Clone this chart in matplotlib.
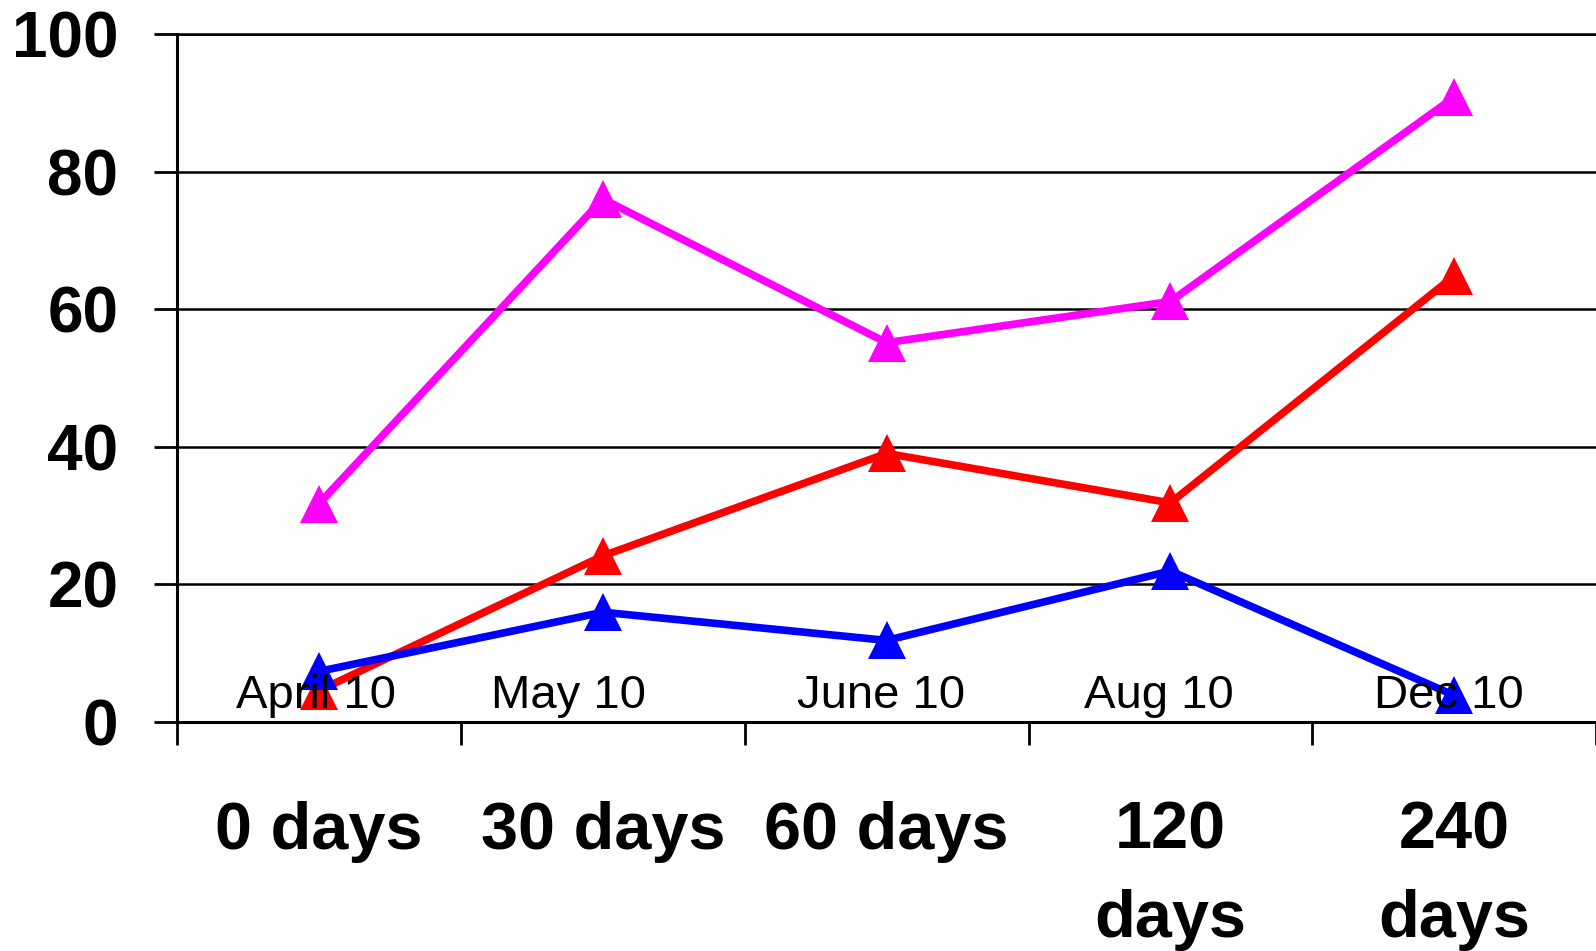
import matplotlib
matplotlib.use("Agg")
import matplotlib.pyplot as plt
import numpy as np

plt.rcParams["font.family"] = ["Liberation Sans", "DejaVu Sans"]

# categories along the bottom and the dates written inside the plot
categories = ["0 days", "30 days", "60 days", "120\ndays", "240\ndays"]
dates = ["April 10", "May 10", "June 10", "Aug 10", "Dec 10"]

# series values
magenta_vals = [31.7, 76.0, 55.1, 61.1, 90.8]
red_vals = [4.5, 24.1, 39.0, 31.8, 64.8]
blue_vals = [7.3, 15.9, 11.8, 21.9, 3.8]

y_ticks = [0, 20, 40, 60, 80, 100]

# where each date label sits (in category units) and its baseline height
date_x = [-0.01, 0.88, 1.98, 2.96, 3.98]
date_y = 1.96

fig = plt.figure(figsize=(15.96, 9.51), dpi=100)
ax = fig.add_axes([0.1111, 0.2413, 0.8889, 0.7229])

x = np.arange(len(categories))
series = [
    (magenta_vals, "#FF00FF"),
    (red_vals, "#FF0000"),
    (blue_vals, "#0000FF"),
]
for vals, color in series:
    ax.plot(x, vals, color=color, linewidth=5.5, marker="^",
            markersize=27, markeredgewidth=0, clip_on=False, zorder=3)

for xd, label in zip(date_x, dates):
    ax.text(xd, date_y, label, ha="center", va="baseline",
            fontsize=34, color="black", zorder=4)

ax.set_xlim(-0.5, len(categories) - 0.5)
ax.set_ylim(0, 100)

# category boundaries as major ticks, labels on minor ticks
ax.set_xticks(np.arange(-0.5, len(categories), 1.0))
ax.set_xticklabels([])
ax.set_xticks(x, minor=True)
ax.set_xticklabels(categories, minor=True, fontsize=48, fontweight="bold",
                   linespacing=1.55)
ax.tick_params(axis="x", which="major", direction="out", length=16.5,
               width=2, color="black")
ax.tick_params(axis="x", which="minor", length=0, pad=57)

ax.set_yticks(y_ticks)
ax.set_yticklabels([str(v) for v in y_ticks], fontsize=46, fontweight="bold")
ax.tick_params(axis="y", direction="out", length=16.5, width=2,
               color="black", pad=26)

ax.yaxis.grid(True, color="black", linewidth=1.8)
ax.set_axisbelow(True)

for side in ["left", "bottom"]:
    ax.spines[side].set_linewidth(2.2)
    ax.spines[side].set_color("black")
ax.spines["top"].set_linewidth(1.8)
ax.spines["right"].set_visible(False)

fig.savefig("out.png", dpi=100)
